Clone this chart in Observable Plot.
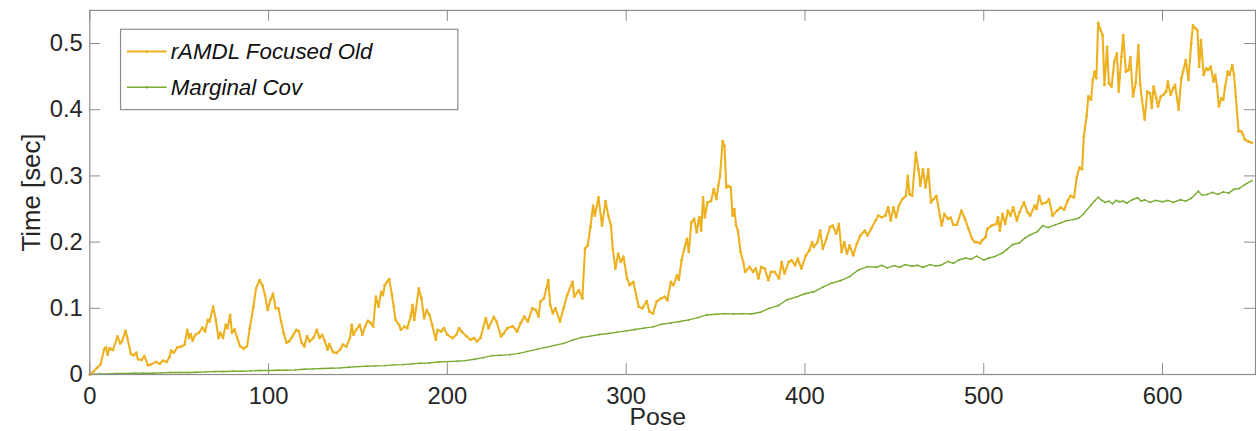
<!DOCTYPE html>
<html>
<head>
<meta charset="utf-8">
<script src="https://cdn.jsdelivr.net/npm/d3@7"></script>
<script src="https://cdn.jsdelivr.net/npm/@observablehq/plot@0.6"></script>
<style>
  html, body { margin: 0; padding: 0; background: #fff; overflow: hidden; }
  #chart { width: 1256px; height: 431px; overflow: hidden; }
</style>
</head>
<body>
<div id="chart"></div>
<script>
const seriesNames = ["rAMDL Focused Old", "Marginal Cov"];
const seriesColors = ["#EDB120", "#77AC30"];
const xTicks = [0, 100, 200, 300, 400, 500, 600];
const yTicks = [0, 0.1, 0.2, 0.3, 0.4, 0.5];
const xLabel = "Pose";
const yLabel = "Time [sec]";

const orangeX = [0,2,4,6,8,9,10,11,12,13,15.5,17,18,20,21,23,24.5,26,27,29,30.5,32.5,34,37,39,41,43,44.5,45.5,47,49,51,53,54.5,55.5,56.5,57.5,59,61,63,64.5,66,67,69,70.5,72,73,74.5,76,77,78.5,79.5,81,82.5,84,86,88,89.5,91.5,93,95,96.5,98,99.5,101,102.5,104,105.5,107,108.5,110,111.5,113.5,115.5,117,118.5,120,121.5,123,125,127,128.5,130,131.5,133,134,136,138,140,141.5,143.5,145.5,146.5,147.5,149,151,152.5,154,155.5,157,158.5,160,161.5,163,164,165,166,167.5,169,170,171,173,174,176,177.5,179.5,180.5,181.5,182.5,184,185.5,187,188.5,190,191.5,193.5,194.5,196.5,198,200,203,205,206.5,208,210.5,213,215,216.5,218.5,221.5,223,226,227.5,230,231.5,233.5,236.5,239,241,243,245,247.5,249.5,251,252,254,256.5,257.5,259,260.5,263,265,267,270,271,273.5,275.5,277,278.5,280,281.5,282.5,284.5,286.5,288.5,290,291.5,292.5,294,295.5,297,298.5,300.5,302,304,306,307,309,311.5,313,315,317,319.5,321.5,323,325,326.5,328.5,329.5,331,332.5,334,335,336.5,338,339.5,340.5,341,342,343,344,345.5,347.5,349,350.5,351.5,352.5,354,355,356,357,358.5,359.5,360.5,361.5,362.5,364,365.5,366.5,369,371,372.5,374,375.5,377.5,379.5,381,383,385.5,387,388.5,391,392.5,394.5,396,398,400.5,402.5,404,405,407,408.5,410,412,414,415.5,417.5,419,420.5,422,423.5,425,427,429,431,433.5,435,437,439.5,441,443,445,446.5,448,449.5,451,452.5,454.5,456.5,457.5,458.5,460,462,463.5,464.5,466,467.5,469,470.5,472,473.5,475.5,476.5,478,480,481.5,483,485,487.5,489.5,491.5,493.5,495,496.5,498,499,501,502,504.5,507,508,509,510.5,512,513.5,515,516.5,518.5,520,522.5,524.5,526,528.5,529.5,531,532.5,535,536.5,538.5,541,543,545,547,548.5,550.5,552,553.5,555,556,557.5,558.5,560,561,562,563,564,565,566.5,567.5,569,570,571.5,573,574.5,575.5,577,578,579.5,581,582,583.5,585,586.5,587.5,588.5,590,591.5,593,594,595,596.5,597.5,599,600.5,602,603,604.5,606,607,609,610.5,611.5,613,614.5,616,617,618.5,619.5,620.5,621.5,623,624.5,625.5,627,628.5,629.5,630.5,631.5,633,634,635,636.5,637.5,639,640,641,642.5,644,645,646,648,650];
const orangeY = [0,0.004,0.01,0.015,0.0375,0.041,0.03,0.04,0.038,0.037,0.0575,0.047,0.05,0.066,0.055,0.031,0.029,0.033,0.023,0.022,0.028,0.014,0.015,0.019,0.016,0.021,0.019,0.026,0.036,0.033,0.041,0.042,0.045,0.0675,0.055,0.061,0.051,0.06,0.063,0.071,0.065,0.0825,0.08,0.1025,0.0825,0.055,0.063,0.055,0.075,0.07,0.09,0.063,0.068,0.055,0.043,0.039,0.043,0.07,0.1025,0.13,0.1425,0.135,0.12,0.0975,0.1125,0.122,0.1,0.1,0.08,0.062,0.048,0.05,0.058,0.0675,0.065,0.048,0.0425,0.058,0.05,0.055,0.0675,0.055,0.06,0.05,0.0375,0.046,0.034,0.0325,0.0375,0.045,0.042,0.055,0.075,0.06,0.0675,0.075,0.06,0.0725,0.081,0.078,0.0725,0.1175,0.1025,0.125,0.12,0.135,0.139,0.144,0.12,0.1025,0.0825,0.075,0.0675,0.0725,0.07,0.0875,0.105,0.0825,0.1,0.13,0.115,0.085,0.0975,0.09,0.075,0.0525,0.0675,0.065,0.07,0.06,0.055,0.06,0.07,0.065,0.058,0.0525,0.055,0.05,0.055,0.085,0.07,0.087,0.08,0.0575,0.062,0.07,0.073,0.065,0.0775,0.0875,0.08,0.1,0.0975,0.0875,0.11,0.115,0.1425,0.105,0.0925,0.1,0.08,0.1,0.12,0.14,0.1175,0.1275,0.115,0.19,0.195,0.2225,0.255,0.24,0.2675,0.225,0.262,0.24,0.225,0.19,0.16,0.1825,0.17,0.178,0.145,0.135,0.14,0.115,0.1025,0.1,0.111,0.095,0.092,0.11,0.115,0.1175,0.112,0.14,0.135,0.15,0.143,0.1725,0.19,0.205,0.185,0.23,0.235,0.215,0.2325,0.2375,0.2175,0.2675,0.2375,0.26,0.262,0.28,0.265,0.285,0.3,0.3525,0.345,0.2825,0.285,0.2825,0.24,0.25,0.225,0.2175,0.185,0.17,0.155,0.1625,0.155,0.16,0.145,0.1625,0.16,0.1425,0.155,0.155,0.145,0.17,0.1525,0.17,0.1725,0.165,0.175,0.16,0.18,0.1875,0.2,0.1925,0.2,0.2175,0.19,0.205,0.2225,0.225,0.2125,0.2275,0.185,0.2,0.1825,0.195,0.18,0.1975,0.21,0.2175,0.21,0.22,0.2325,0.24,0.2375,0.24,0.2525,0.2325,0.2525,0.2375,0.255,0.265,0.27,0.3,0.2725,0.27,0.335,0.31,0.285,0.31,0.2825,0.31,0.26,0.265,0.27,0.24,0.225,0.2425,0.235,0.237,0.226,0.226,0.2475,0.235,0.22,0.205,0.2,0.2,0.198,0.2025,0.2075,0.22,0.225,0.2275,0.2375,0.2175,0.2425,0.2275,0.2475,0.24,0.2525,0.2325,0.245,0.26,0.245,0.24,0.255,0.25,0.27,0.2575,0.26,0.265,0.24,0.2475,0.2525,0.249,0.2625,0.27,0.2675,0.2975,0.3125,0.31,0.36,0.39,0.42,0.415,0.445,0.4575,0.4475,0.531,0.5225,0.5125,0.4375,0.495,0.44,0.435,0.4725,0.485,0.4275,0.48,0.5125,0.4575,0.46,0.479,0.42,0.44,0.4975,0.4375,0.415,0.385,0.4275,0.425,0.4025,0.435,0.4175,0.405,0.42,0.4225,0.4275,0.4425,0.4225,0.4325,0.4375,0.4,0.4475,0.4575,0.475,0.445,0.5,0.5275,0.5225,0.52,0.465,0.505,0.4525,0.4625,0.46,0.465,0.4425,0.4525,0.435,0.405,0.4175,0.415,0.435,0.4575,0.4525,0.4675,0.4525,0.42,0.3675,0.3675,0.3625,0.355,0.352,0.35];

// Marginal Cov: [pose, seconds]
const greenSeries = [
  [0,0],[5,0.001],[10,0.001],[15,0.0015],[20,0.0015],[25,0.002],[30,0.002],[35,0.002],[40,0.0025],[45,0.003],
  [50,0.003],[55,0.003],[60,0.0035],[65,0.004],[70,0.0045],[75,0.0045],[80,0.005],[85,0.005],[90,0.0055],[95,0.006],
  [100,0.006],[105,0.0065],[110,0.0065],[115,0.007],[120,0.008],[125,0.0085],[130,0.009],[135,0.0095],[140,0.01],[145,0.011],
  [150,0.012],[155,0.0125],[160,0.013],[165,0.0135],[170,0.0145],[175,0.015],[180,0.016],[185,0.017],[190,0.0175],[195,0.019],
  [200,0.0195],[205,0.02],[210,0.021],[215,0.023],[220,0.0255],[225,0.0285],[230,0.029],[235,0.03],[240,0.032],[245,0.035],
  [250,0.038],[255,0.041],[260,0.044],[265,0.047],[270,0.052],[275,0.056],[280,0.058],[285,0.0605],[290,0.062],[295,0.064],
  [300,0.066],[305,0.068],[310,0.07],[315,0.072],[320,0.076],[325,0.078],[330,0.08],[335,0.0825],[340,0.086],[345,0.09],
  [350,0.091],[355,0.092],[360,0.0915],[365,0.092],[370,0.0915],[375,0.094],[380,0.1],[385,0.104],[390,0.113],[395,0.117],
  [400,0.122],[405,0.125],[410,0.132],[415,0.138],[420,0.142],[425,0.148],[430,0.158],[435,0.163],
  [440,0.162],[443,0.165],[446,0.161],[450,0.1645],[453,0.162],[456,0.166],[460,0.1635],[463,0.165],[466,0.162],[470,0.166],
  [473,0.164],[476,0.165],[480,0.171],[483,0.168],[486,0.173],[490,0.176],[493,0.174],[496,0.179],[500,0.173],[503,0.176],
  [506,0.178],[510,0.183],[513,0.189],[516,0.196],[520,0.199],[523,0.206],[526,0.211],[530,0.216],[533,0.225],[536,0.222],
  [540,0.226],[543,0.229],[546,0.232],[550,0.234],[553,0.236],[556,0.243],[560,0.256],[562,0.262],[564,0.268],[566,0.263],
  [568,0.26],[570,0.262],[572,0.258],[574,0.263],[576,0.261],[578,0.262],[580,0.259],[583,0.264],[586,0.267],[588,0.262],
  [590,0.264],[593,0.26],[596,0.263],[600,0.261],[603,0.263],[606,0.26],[610,0.264],[613,0.262],[616,0.266],[620,0.277],
  [622,0.271],[625,0.272],[628,0.275],[631,0.272],[634,0.276],[637,0.274],[640,0.28],[643,0.281],[646,0.287],[650,0.293]
];

const orange = orangeX.map((x, i) => ({x, y: orangeY[i]}));
const green = greenSeries.map(([x, y]) => ({x, y}));

const W = 1266, H = 431, mL = 90, mR = 1, mT = 10, mB = 54;
const xMax = 652, yMax = 0.55;
const tickLen = 11;
const yTickLen = tickLen * yMax / (H - mT - mB);
const xTickLen = tickLen * xMax / (W - mL - mR);
const frameColor = "#8c8c8c";
const textColor = "#262626";

const plot = Plot.plot({
  width: W, height: H,
  marginLeft: mL, marginRight: mR, marginTop: mT, marginBottom: mB,
  style: {fontFamily: "'Liberation Sans', Arial, Helvetica, sans-serif", fontSize: "24px", color: textColor, background: "#fff"},
  x: {domain: [0, xMax]},
  y: {domain: [0, yMax]},
  marks: [
    Plot.ruleX(xTicks, {x: d => d, y1: 0, y2: yTickLen, stroke: frameColor, strokeWidth: 1}),
    Plot.ruleX(xTicks, {x: d => d, y1: yMax - yTickLen, y2: yMax, stroke: frameColor, strokeWidth: 1}),
    Plot.ruleY(yTicks, {y: d => d, x1: 0, x2: xTickLen, stroke: frameColor, strokeWidth: 1}),
    Plot.ruleY(yTicks, {y: d => d, x1: xMax - xTickLen, x2: xMax, stroke: frameColor, strokeWidth: 1}),
    Plot.line(green, {x: "x", y: "y", stroke: seriesColors[1], strokeWidth: 1.4}),
    Plot.dot(green, {x: "x", y: "y", r: 0.9, fill: seriesColors[1], stroke: null}),
    Plot.line(orange, {x: "x", y: "y", stroke: seriesColors[0], strokeWidth: 2.1}),
    Plot.dot(orange, {x: "x", y: "y", r: 1.4, fill: seriesColors[0], stroke: null}),
    Plot.frame({stroke: frameColor, strokeWidth: 1.2}),
    Plot.axisX({ticks: xTicks, tickSize: 0, tickPadding: 13, label: null, fill: textColor}),
    Plot.axisY({ticks: yTicks, tickSize: 0, tickPadding: 7, label: null, fill: textColor, tickFormat: d => d === 0 ? "0" : String(d)})
  ]
});

const svg = d3.select(plot);
// Axis titles
svg.append("text").attr("x", 663).attr("y", 428).attr("text-anchor", "middle")
  .attr("font-size", 25).attr("fill", textColor).text(xLabel);
svg.append("text").attr("transform", "translate(40,194) rotate(-90)").attr("text-anchor", "middle")
  .attr("font-size", 26).attr("fill", textColor).text(yLabel);

// Legend
const lg = svg.append("g");
lg.append("rect").attr("x", 121.5).attr("y", 29.5).attr("width", 340).attr("height", 81)
  .attr("fill", "#fff").attr("stroke", frameColor).attr("stroke-width", 1.2);
seriesNames.forEach((name, i) => {
  const cy = 52 + i * 36;
  lg.append("line").attr("x1", 128).attr("x2", 168).attr("y1", cy).attr("y2", cy)
    .attr("stroke", seriesColors[i]).attr("stroke-width", i === 0 ? 2 : 1.4);
  lg.append("circle").attr("cx", 148).attr("cy", cy).attr("r", 1.3).attr("fill", seriesColors[i]);
  lg.append("text").attr("x", 172).attr("y", cy).attr("dy", "0.35em").attr("text-anchor", "start")
    .attr("font-size", 22.5).attr("font-style", "italic").attr("fill", "#111").text(name);
});

document.getElementById("chart").appendChild(plot);
</script>
</body>
</html>
